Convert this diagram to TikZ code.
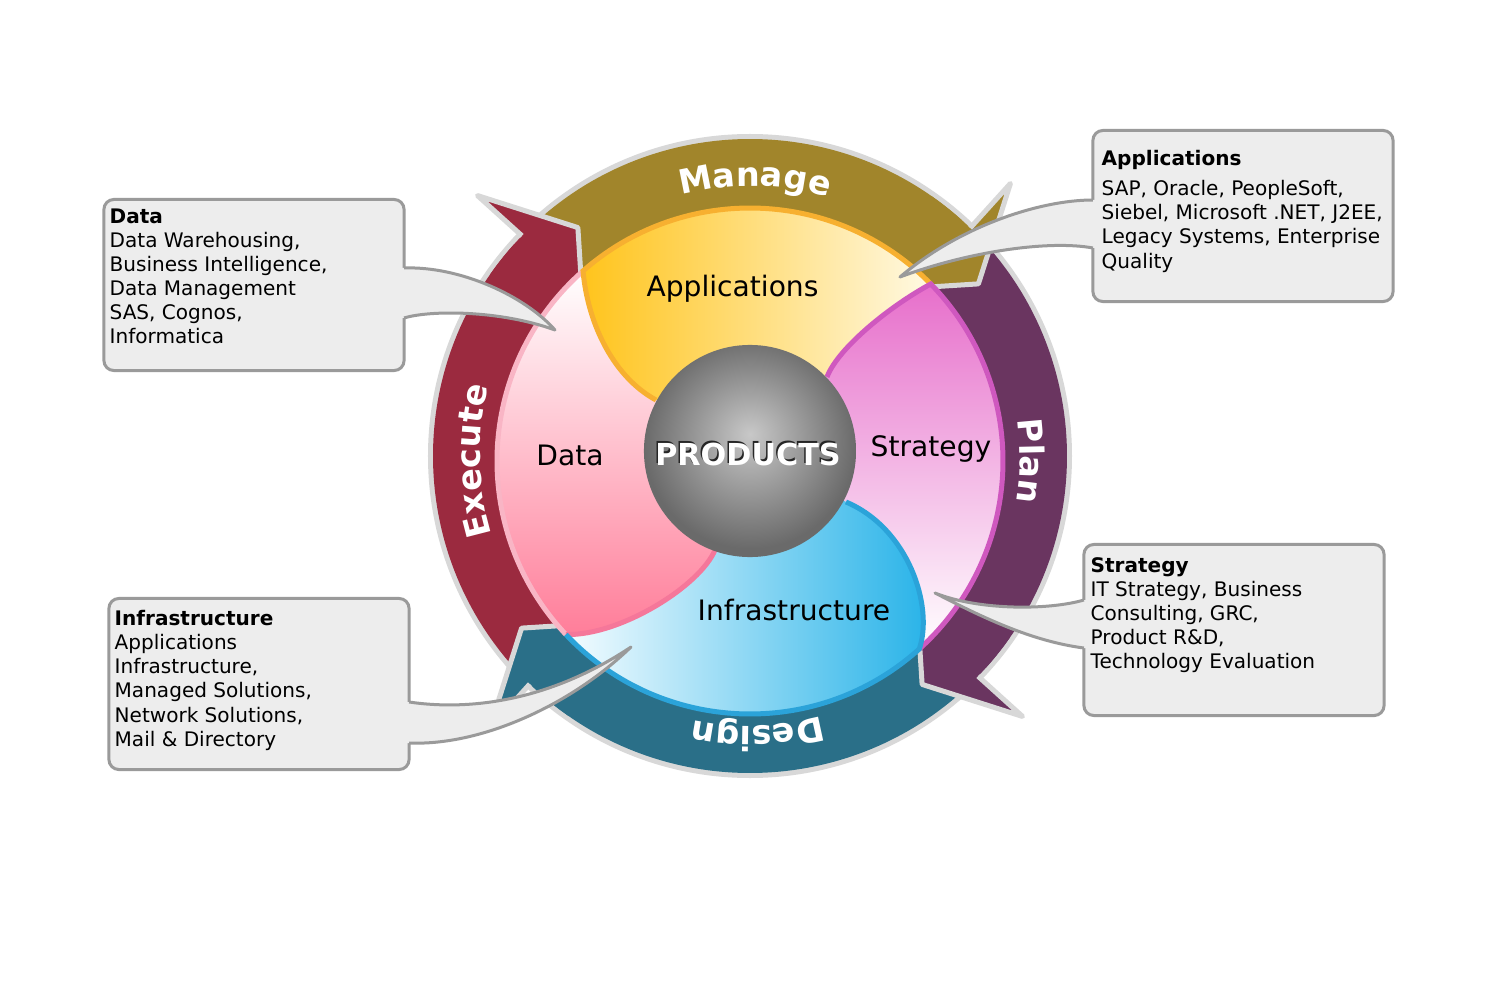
\documentclass[tikz,border=0pt]{standalone}
\usepackage{fontspec}
\setmainfont{DejaVu Sans}
\usetikzlibrary{calc,decorations.text}
\definecolor{managecol}{HTML}{A1852B}
\definecolor{plancol}{HTML}{6A3560}
\definecolor{designcol}{HTML}{2A6F88}
\definecolor{execcol}{HTML}{9B2A3F}
\definecolor{ringgray}{HTML}{D8D8D8}
\definecolor{appsdeep}{HTML}{FFC41C}
\definecolor{appsmid}{HTML}{FFE07C}
\definecolor{appspale}{HTML}{FFF9E3}
\definecolor{appsrim}{HTML}{F7B030}
\definecolor{stratdeep}{HTML}{E76FCB}
\definecolor{stratmid}{HTML}{EC8AD4}
\definecolor{stratrim}{HTML}{CF58BF}
\definecolor{infradeep}{HTML}{25B2E8}
\definecolor{inframid}{HTML}{8ED8F2}
\definecolor{infrapale}{HTML}{F4FCFF}
\definecolor{infrarim}{HTML}{2BA3D9}
\definecolor{datadeep}{HTML}{FF7D99}
\definecolor{datamid}{HTML}{FFC6D2}
\definecolor{datarimdark}{HTML}{F5779A}
\definecolor{datarimpale}{HTML}{F9B5C5}
\definecolor{sphlite}{HTML}{C8C8C8}
\definecolor{sphdark}{HTML}{6A6A6A}
\definecolor{boxfill}{HTML}{EDEDED}
\definecolor{boxline}{HTML}{9A9A9A}
\pgfdeclareradialshading{spheregray}{\pgfpoint{0bp}{4bp}}{color(0bp)=(sphlite); color(25bp)=(sphdark); color(50bp)=(sphdark)}
\newcommand{\bandfont}{\bfseries\fontsize{9.5}{11}\selectfont}
\tikzset{
  ringedge/.style={draw=ringgray, line width=0.05cm, line join=round},
  petalline/.style={line width=0.05cm},
  callbox/.style={draw=boxline, fill=boxfill, line width=0.03cm, rounded corners=0.1cm, minimum width=3cm, minimum height=1.71cm, inner sep=0pt, outer sep=0pt},
  callfill/.style={fill=boxfill},
  callline/.style={draw=boxline, line width=0.03cm, line join=round},
  calltext/.style={anchor=north west, inner sep=0pt, align=left, font=\fontsize{5.7}{6.83}\selectfont},
  petallabel/.style={anchor=base, inner sep=0pt, font=\fontsize{8}{9.6}\selectfont},
  prodtext/.style={anchor=base, inner sep=0pt, font=\bfseries\fontsize{8.6}{10}\selectfont},
  sphere/.style={circle, minimum size=2.12cm, inner sep=0pt, shade, shading=spheregray},
  bandlabel/.style={decorate, decoration={text along path, text align=center, text color=white}}
}
\begin{document}
\begin{tikzpicture}[x=0.01cm, y=0.01cm]
    \useasboundingbox (-750,-544) rectangle (750,456);
    \fill[white] (-750,-544) rectangle (750,456);
    \fill[ringgray] (0,0) circle (322);
    \fill[execcol] (226:245) arc[start angle=226, end angle=138, radius=245] -- (138:317) arc[start angle=138, end angle=226, radius=317] -- cycle;
    \fill[managecol] (136:245) arc[start angle=136, end angle=48, radius=245] -- (48:317) arc[start angle=48, end angle=136, radius=317] -- cycle;
    \fill[plancol] (46:245) arc[start angle=46, end angle=-42, radius=245] -- (-42:317) arc[start angle=-42, end angle=46, radius=317] -- cycle;
    \fill[designcol] (-44:245) arc[start angle=-44, end angle=-132, radius=245] -- (-132:317) arc[start angle=-132, end angle=-44, radius=317] -- cycle;
    \fill[execcol] (145:245) arc[start angle=145, end angle=133, radius=245] -- (127:286) -- (136.3:377) -- (136:317) arc[start angle=136, end angle=145, radius=317] -- cycle;
    \fill[managecol] (55:245) arc[start angle=55, end angle=43, radius=245] -- (37:286) -- (46.3:377) -- (46:317) arc[start angle=46, end angle=55, radius=317] -- cycle;
    \fill[plancol] (-35:245) arc[start angle=-35, end angle=-47, radius=245] -- (-53:286) -- (-43.7:377) -- (-44:317) arc[start angle=-44, end angle=-35, radius=317] -- cycle;
    \fill[designcol] (-125:245) arc[start angle=-125, end angle=-137, radius=245] -- (-143:286) -- (-133.7:377) -- (-134:317) arc[start angle=-134, end angle=-125, radius=317] -- cycle;
    \draw[ringedge] (133:248) -- (127:286) -- (136.3:377) -- (136:317);
    \draw[ringedge] (43:248) -- (37:286) -- (46.3:377) -- (46:317);
    \draw[ringedge] (-47:248) -- (-53:286) -- (-43.7:377) -- (-44:317);
    \draw[ringedge] (-137:248) -- (-143:286) -- (-133.7:377) -- (-134:317);
    \path[bandlabel, decoration={text={|\bandfont|Manage}}] (129:270) arc[start angle=129, end angle=49, radius=270];
    \path[bandlabel, decoration={text={|\bandfont|Plan}}] (39:270) arc[start angle=39, end angle=-41, radius=270];
    \path[bandlabel, decoration={text={|\bandfont|Design}}] (-48.5:270) arc[start angle=-48.5, end angle=-128.5, radius=270];
    \path[bandlabel, decoration={text={|\bandfont|Execute}}] (221:270) arc[start angle=221, end angle=141, radius=270];
    \coordinate (pc) at (0,-5);
    \coordinate (q1) at ($(pc)+(131.3:253)$);
    \coordinate (q2) at ($(pc)+(44.4:253)$);
    \coordinate (q3) at ($(pc)+(-48:253)$);
    \coordinate (q4) at ($(pc)+(-136.7:253)$);
    \shade[left color=appsdeep, middle color=appsmid, right color=appspale] (0,5) -- (-94,56) .. controls (-135,78) and (-162,130) .. (q1) arc[start angle=131.3, end angle=44.4, radius=253] .. controls (140,150) and (88,108) .. (77,79) -- cycle;
    \shade[top color=stratdeep, middle color=stratmid, bottom color=white] (0,5) -- (77,79) .. controls (88,108) and (140,150) .. (q2) arc[start angle=44.4, end angle=-48, radius=253] .. controls (184,-150) and (158,-72) .. (96,-46) -- cycle;
    \shade[left color=infrapale, middle color=inframid, right color=infradeep] (0,5) -- (96,-46) .. controls (158,-72) and (184,-150) .. (q3) arc[start angle=-48, end angle=-136.7, radius=253] .. controls (-130,-180) and (-50,-130) .. (-35,-94) -- cycle;
    \shade[top color=white, middle color=datamid, bottom color=datadeep] (0,5) -- (-35,-94) .. controls (-50,-130) and (-130,-180) .. (q4) arc[start angle=223.3, end angle=131.3, radius=253] .. controls (-162,130) and (-135,78) .. (-94,56) -- cycle;
    \draw[petalline, datarimpale] (q4) arc[start angle=223.3, end angle=131.3, radius=253];
    \draw[petalline, datarimdark] (-35,-94) .. controls (-50,-130) and (-130,-180) .. (q4);
    \draw[petalline, appsrim] (-94,56) .. controls (-135,78) and (-162,130) .. (q1) arc[start angle=131.3, end angle=44.4, radius=253];
    \draw[petalline, stratrim] (77,79) .. controls (88,108) and (140,150) .. (q2) arc[start angle=44.4, end angle=-48, radius=253];
    \draw[petalline, infrarim] (96,-46) .. controls (158,-72) and (184,-150) .. (q3) arc[start angle=-48, end angle=-136.7, radius=253];
    \node[petallabel] (appslabel) at (-17.5,159) {Applications};
    \node[petallabel] (stratlabel) at (181,-1) {Strategy};
    \node[petallabel] (infralabel) at (44,-164) {Infrastructure};
    \node[petallabel] (datalabel) at (-180,-9) {Data};
    \node[sphere] (core) at (0,5) {};
    \node[prodtext, text=black!85] (prodshade) at (-3.5,-7) {PRODUCTS};
    \node[prodtext, text=white] (prodlabel) at (-2,-9) {PRODUCTS};
    \node[callbox] (databox) at (-496,171) {};
    \node[callbox] (appsbox) at (493,240) {};
    \node[callbox] (stratbox) at (484,-174) {};
    \node[callbox] (infrabox) at (-491,-228) {};
    \coordinate (datatip) at (-195,126);
    \coordinate (appstip) at (150,179);
    \coordinate (strattip) at (185,-137);
    \coordinate (infratip) at (-119,-191);
    \fill[callfill] ($(databox.east)+(-6,17)$) -- ($(databox.east)+(0,17)$) .. controls (-290,190) and (-225,160) .. (datatip) .. controls (-250,146) and (-320,146) .. ($(databox.east)+(0,-33)$) -- ($(databox.east)+(-6,-33)$) -- cycle;
    \draw[callline] ($(databox.east)+(0,17)$) .. controls (-290,190) and (-225,160) .. (datatip) .. controls (-250,146) and (-320,146) .. ($(databox.east)+(0,-33)$);
    \fill[callfill] ($(appsbox.west)+(6,16)$) -- ($(appsbox.west)+(0,16)$) .. controls (290,256) and (210,230) .. (appstip) .. controls (220,205) and (300,216) .. ($(appsbox.west)+(0,-32)$) -- ($(appsbox.west)+(6,-32)$) -- cycle;
    \draw[callline] ($(appsbox.west)+(0,16)$) .. controls (290,256) and (210,230) .. (appstip) .. controls (220,205) and (300,216) .. ($(appsbox.west)+(0,-32)$);
    \fill[callfill] ($(stratbox.west)+(6,30)$) -- ($(stratbox.west)+(0,30)$) .. controls (300,-154) and (230,-155) .. (strattip) .. controls (230,-160) and (280,-185) .. ($(stratbox.west)+(0,-18)$) -- ($(stratbox.west)+(6,-18)$) -- cycle;
    \draw[callline] ($(stratbox.west)+(0,30)$) .. controls (300,-154) and (230,-155) .. (strattip) .. controls (230,-160) and (280,-185) .. ($(stratbox.west)+(0,-18)$);
    \fill[callfill] ($(infrabox.east)+(-6,-18)$) -- ($(infrabox.east)+(0,-18)$) .. controls (-280,-255) and (-200,-245) .. (infratip) .. controls (-180,-250) and (-270,-290) .. ($(infrabox.east)+(0,-59)$) -- ($(infrabox.east)+(-6,-59)$) -- cycle;
    \draw[callline] ($(infrabox.east)+(0,-18)$) .. controls (-280,-255) and (-200,-245) .. (infratip) .. controls (-180,-250) and (-270,-290) .. ($(infrabox.east)+(0,-59)$);
    \node[calltext] (datatext) at (-641,248) {\textbf{Data}\\Data Warehousing,\\Business Intelligence,\\Data Management\\SAS, Cognos,\\Informatica};
    \node[calltext] (appstext) at (351,306) {\textbf{Applications}\\[0.06cm]SAP, Oracle, PeopleSoft,\\Siebel, Microsoft .NET, J2EE,\\Legacy Systems, Enterprise\\Quality};
    \node[calltext] (strattext) at (340,-101) {\textbf{Strategy}\\IT Strategy, Business\\Consulting, GRC,\\Product R\&D,\\Technology Evaluation};
    \node[calltext] (infratext) at (-636,-154) {\textbf{Infrastructure}\\Applications\\Infrastructure,\\Managed Solutions,\\Network Solutions,\\Mail \& Directory};
\end{tikzpicture}
\end{document}
